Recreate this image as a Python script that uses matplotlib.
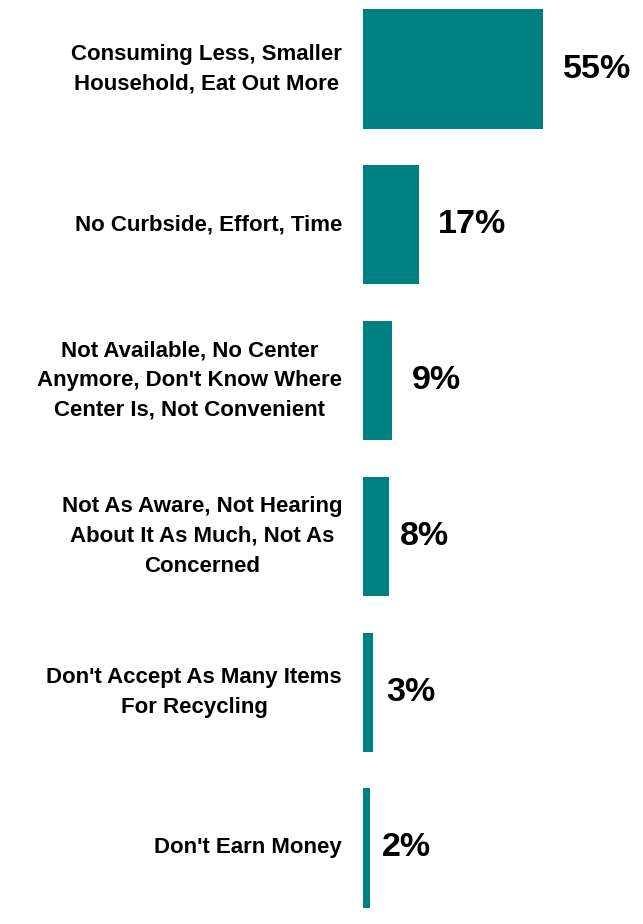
import matplotlib
matplotlib.use("Agg")
import matplotlib.pyplot as plt

categories = [
    "Consuming Less, Smaller\nHousehold, Eat Out More",
    "No Curbside, Effort, Time",
    "Not Available, No Center\nAnymore, Don't Know Where\nCenter Is, Not Convenient",
    "Not As Aware, Not Hearing\nAbout It As Much, Not As\nConcerned",
    "Don't Accept As Many Items\nFor Recycling",
    "Don't Earn Money",
]
values = [55, 17, 9, 8, 3, 2]
value_labels = ["55%", "17%", "9%", "8%", "3%", "2%"]

# label gap from bar end, in pixels (layout only)
label_gaps = [20, 19, 19, 11, 13, 12]

plt.rcParams['font.family'] = ['Liberation Sans', 'DejaVu Sans']

W, H = 643, 924
fig = plt.figure(figsize=(W / 100, H / 100), dpi=100)
ax = fig.add_axes([363 / W, 0, (W - 363) / W, 1])

ypos = list(range(len(values)))
ax.barh(ypos, values, height=0.765, color="#008080", edgecolor="none")

ax.set_xlim(0, (W - 363) / 3.27)
spacing = 155.8
ax.set_ylim((H - 69) / spacing, -69 / spacing)
ax.axis("off")

for y, v, lab, cat, gap in zip(ypos, values, value_labels, categories, label_gaps):
    ax.annotate(lab, xy=(v, y), xytext=(gap, 0), textcoords="offset pixels",
                ha="left", va="center", fontsize=24.5, fontweight="bold", color="black")
    ax.annotate(cat, xy=(0, y), xytext=(-21, 0), textcoords="offset pixels",
                ha="right", va="center", multialignment="center",
                fontsize=16, fontweight="bold", color="black", linespacing=1.55)

fig.savefig("out.png", dpi=100)
